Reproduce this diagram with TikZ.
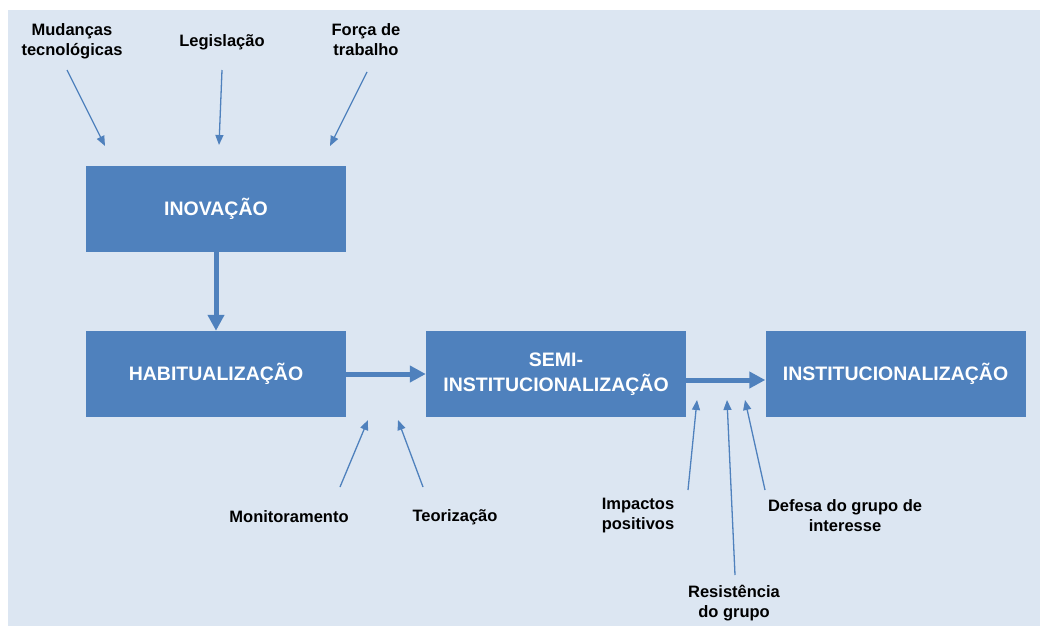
\documentclass[tikz,border=0pt]{standalone}
\usepackage{fontspec}
\setmainfont{Liberation Sans}
\usetikzlibrary{arrows.meta,calc}

\definecolor{fundo}{HTML}{DCE6F2}
\definecolor{caixa}{HTML}{4F81BD}

\begin{document}
\begin{tikzpicture}[x=1pt,y=-1pt,
    etapa/.style={fill=caixa, minimum width=260pt, minimum height=86pt, inner sep=0pt,
      text=white, align=center, font=\fontsize{19.5}{25}\selectfont\bfseries},
    fator/.style={align=center, inner sep=0pt, font=\fontsize{16.5}{20}\selectfont\bfseries},
    fluxo/.style={draw=caixa, line width=5pt, -{Triangle[length=16pt,width=16pt]}},
    influencia/.style={draw=caixa, line width=1.3pt, -{Triangle[length=10pt,width=8pt]}}]
  \useasboundingbox (0,0) rectangle (1040,626);
  \fill[fundo] (8,10) rectangle (1040,626);

  % etapas
  \node[etapa] (inov) at (216,209) {INOVAÇÃO};
  \node[etapa] (habit) at (216,374) {HABITUALIZAÇÃO};
  \node[etapa] (semi) at (556,374) {SEMI-\\INSTITUCIONALIZAÇÃO};
  \node[etapa] (inst) at (895.5,374) {INSTITUCIONALIZAÇÃO};

  \draw[fluxo] (inov) -- (habit);
  \draw[fluxo] (habit) -- (semi);
  \draw[fluxo] ([yshift=-6pt]semi.east) -- ([yshift=-6pt]inst.west);

  % fatores
  \node[fator] (mud) at (72,41) {Mudanças\\tecnológicas};
  \node[fator] (leg) at (222,42) {Legislação};
  \node[fator] (forca) at (366,40) {Força de\\trabalho};
  \node[fator] (mon) at (289,517) {Monitoramento};
  \node[fator] (teo) at (455,517) {Teorização};
  \node[fator] (imp) at (638,516) {Impactos\\positivos};
  \node[fator] (res) at (734,603) {Resistência\\do grupo};
  \node[fator] (def) at (845,516) {Defesa do grupo de\\interesse};

  \coordinate (mudA) at (67,70);   \coordinate (mudB) at (105,146);
  \coordinate (legA) at (222,70);  \coordinate (legB) at (219,145);
  \coordinate (forA) at (367,72);  \coordinate (forB) at (330,146);
  \coordinate (monA) at (340,487); \coordinate (monB) at (368,420);
  \coordinate (teoA) at (423,487); \coordinate (teoB) at (398,420);
  \coordinate (impA) at (688,490); \coordinate (impB) at (697,400);
  \coordinate (resA) at (735,575); \coordinate (resB) at (727,400);
  \coordinate (defA) at (765,490); \coordinate (defB) at (745,400);

  \foreach \f in {mud,leg,for,mon,teo,imp,res,def}
    \draw[influencia] (\f A) -- (\f B);
\end{tikzpicture}
\end{document}
